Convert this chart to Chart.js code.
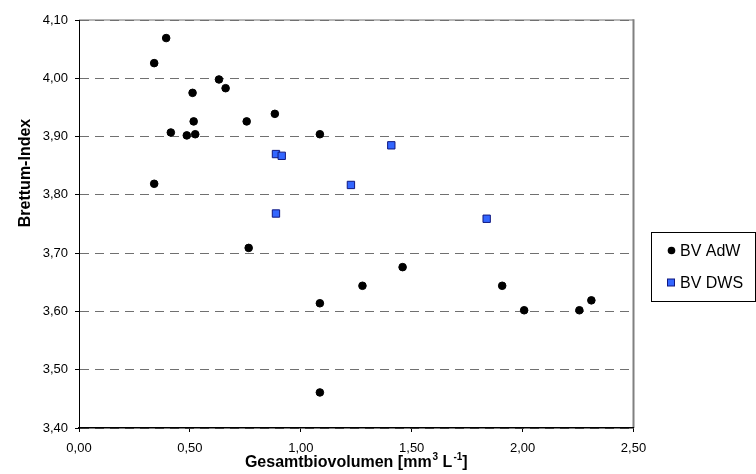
<!DOCTYPE html>
<html>
<head>
<meta charset="utf-8">
<script src="https://cdn.jsdelivr.net/npm/chart.js@4/dist/chart.umd.min.js"></script>
<style>
  html, body { margin: 0; padding: 0; background: #fff; }
  #wrap { width: 756px; height: 474px; }
</style>
</head>
<body>
<div id="wrap"><canvas id="myChart" width="756" height="474"></canvas></div>
<script>
// BV AdW series
const adwX = [0.339, 0.339, 0.393, 0.414, 0.486, 0.512, 0.517, 0.524, 0.631, 0.661, 0.756,
  0.765, 0.883, 1.086, 1.086, 1.086, 1.278, 1.459, 1.908, 2.007, 2.256, 2.310];
const adwY = [4.026, 3.819, 4.069, 3.907, 3.902, 3.975, 3.926, 3.904, 3.998, 3.983, 3.926,
  3.709, 3.939, 3.904, 3.614, 3.461, 3.644, 3.676, 3.644, 3.602, 3.602, 3.619];

// BV DWS series
const dwsX = [0.888, 0.914, 0.888, 1.226, 1.408, 1.838];
const dwsY = [3.870, 3.867, 3.768, 3.817, 3.885, 3.759];

const seriesLabels = ["BV AdW", "BV DWS"];

// axis ranges / tick steps
const xTicks = [0, 0.5, 1.0, 1.5, 2.0, 2.5];
const yTicks = [3.4, 3.5, 3.6, 3.7, 3.8, 3.9, 4.0, 4.1];

const yTitle = "Brettum-Index";
const xTitleParts = [["Gesamtbiovolumen [mm", false], ["3", true], [" L", false], ["-1", true], ["]", false]];

Chart.defaults.font.family = 'Arial, "Liberation Sans", sans-serif';
Chart.defaults.color = "#000";

function toPoints(xs, ys) {
  return xs.map((x, i) => ({ x: x, y: ys[i] }));
}

function comma(v) {
  return v.toFixed(2).replace(".", ",");
}

// white background + grey frame on top/right of plot area
const framePlugin = {
  id: "frame",
  beforeDraw(chart) {
    const { ctx, chartArea: a } = chart;
    ctx.save();
    ctx.fillStyle = "#fff";
    ctx.fillRect(0, 0, chart.width, chart.height);
    ctx.strokeStyle = "#a0a0a0";
    ctx.lineWidth = 1.5;
    ctx.beginPath();
    ctx.moveTo(a.left, a.top);
    ctx.lineTo(a.right, a.top);
    ctx.stroke();
    ctx.strokeStyle = "#808080";
    ctx.lineWidth = 2;
    ctx.beginPath();
    ctx.moveTo(a.right, a.top - 0.75);
    ctx.lineTo(a.right, a.bottom);
    ctx.stroke();
    ctx.restore();
  }
};

// axis titles (x title has superscripts)
const titlesPlugin = {
  id: "titles",
  afterDraw(chart) {
    const { ctx, chartArea: a } = chart;
    ctx.save();
    ctx.fillStyle = "#000";
    ctx.textBaseline = "alphabetic";

    // y title
    ctx.font = "bold 16px Arial, 'Liberation Sans', sans-serif";
    ctx.translate(30, 173);
    ctx.rotate(-Math.PI / 2);
    ctx.textAlign = "center";
    ctx.fillText(yTitle, 0, 0);
    ctx.setTransform(1, 0, 0, 1, 0, 0);

    // x title
    const big = "bold 16px Arial, 'Liberation Sans', sans-serif";
    const small = "bold 10px Arial, 'Liberation Sans', sans-serif";
    let total = 0;
    xTitleParts.forEach(p => {
      ctx.font = p[1] ? small : big;
      total += ctx.measureText(p[0]).width + (p[1] ? 1 : 0);
    });
    let x = (a.left + a.right) / 2 - total / 2;
    const base = 467;
    ctx.textAlign = "left";
    xTitleParts.forEach(p => {
      ctx.font = p[1] ? small : big;
      ctx.fillText(p[0], x + (p[1] ? 1 : 0), p[1] ? base - 7 : base);
      x += ctx.measureText(p[0]).width + (p[1] ? 1 : 0);
    });
    ctx.restore();
  }
};

// boxed legend to the right of the plot
const legendPlugin = {
  id: "boxLegend",
  afterDraw(chart) {
    const { ctx } = chart;
    const left = 651, top = 232, w = 104, h = 69;
    ctx.save();
    ctx.fillStyle = "#fff";
    ctx.fillRect(left, top, w, h);
    ctx.strokeStyle = "#000";
    ctx.lineWidth = 1;
    ctx.strokeRect(left + 0.5, top + 0.5, w, h);
    ctx.font = "16px Arial, 'Liberation Sans', sans-serif";
    ctx.textBaseline = "middle";
    ctx.textAlign = "left";
    const rows = [250.5, 282.5];
    chart.data.datasets.forEach((ds, i) => {
      const y = rows[i];
      ctx.fillStyle = ds.backgroundColor;
      ctx.strokeStyle = ds.borderColor;
      ctx.lineWidth = 1;
      if (ds.pointStyle === "rect") {
        ctx.fillRect(667.5, y - 3.5, 7, 7);
        ctx.strokeRect(667.5, y - 3.5, 7, 7);
      } else {
        ctx.beginPath();
        ctx.arc(671.5, y, 3.8, 0, Math.PI * 2);
        ctx.fill();
      }
      ctx.fillStyle = "#000";
      ctx.fillText(ds.label, 680, y + 1);
    });
    ctx.restore();
  }
};

new Chart("myChart", {
  type: "scatter",
  data: {
    datasets: [
      {
        label: seriesLabels[0],
        data: toPoints(adwX, adwY),
        pointStyle: "circle",
        pointRadius: 3.8,
        pointBorderWidth: 1,
        backgroundColor: "#000000",
        borderColor: "#000000"
      },
      {
        label: seriesLabels[1],
        data: toPoints(dwsX, dwsY),
        pointStyle: "rect",
        pointRadius: 5.2,
        pointBorderWidth: 1,
        backgroundColor: "#3366ff",
        borderColor: "#101880"
      }
    ]
  },
  options: {
    responsive: false,
    animation: false,
    events: [],
    layout: { padding: { top: 20, right: 122.5, left: 0, bottom: 0 } },
    plugins: {
      legend: { display: false },
      tooltip: { enabled: false }
    },
    scales: {
      x: {
        type: "linear",
        min: xTicks[0],
        max: xTicks[xTicks.length - 1],
        afterBuildTicks: s => { s.ticks = xTicks.map(v => ({ value: v })); },
        afterFit: s => { s.height = 46; },
        ticks: {
          font: { size: 13 },
          padding: 9,
          maxRotation: 0,
          callback: v => comma(v)
        },
        grid: {
          drawOnChartArea: false,
          tickLength: 4,
          tickColor: "#000",
          tickWidth: 1
        },
        border: { color: "#000", width: 1.5 }
      },
      y: {
        type: "linear",
        min: yTicks[0],
        max: yTicks[yTicks.length - 1],
        afterBuildTicks: s => { s.ticks = yTicks.map(v => ({ value: v })); },
        afterFit: s => { s.width = 79; },
        ticks: {
          font: { size: 13 },
          padding: 7,
          callback: v => comma(v)
        },
        grid: {
          color: "#707070",
          lineWidth: 1,
          tickLength: 4,
          tickColor: "#000",
          tickWidth: 1,
          tickBorderDash: []
        },
        border: { color: "#000", width: 1, dash: [9, 6] }
      }
    }
  },
  plugins: [framePlugin, titlesPlugin, legendPlugin]
});
</script>
</body>
</html>
